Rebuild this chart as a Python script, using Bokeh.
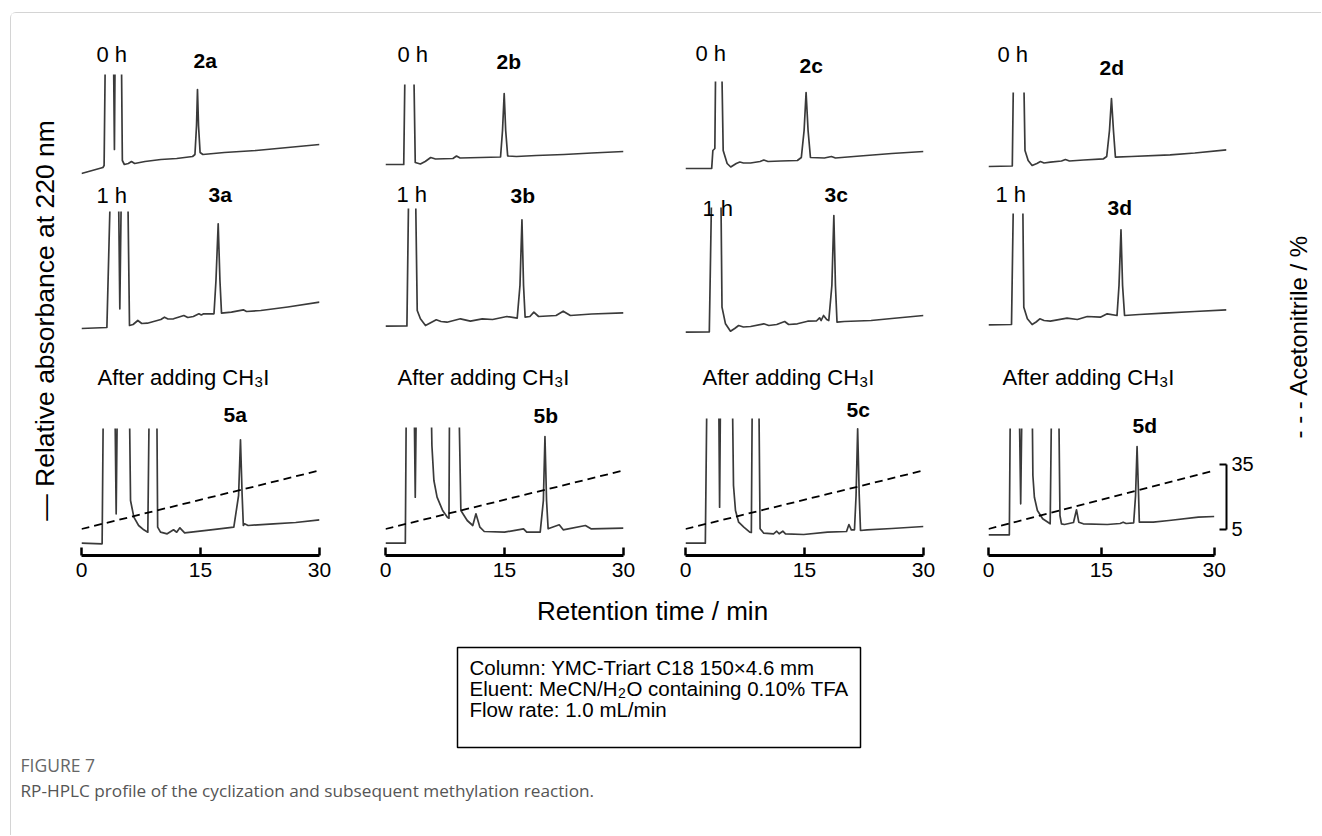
import numpy as np
from bokeh.plotting import figure
from bokeh.models import Range1d, LinearAxis, FixedTicker, Label, BoxAnnotation
from bokeh.layouts import column, row
from bokeh.embed import file_html
from bokeh.resources import INLINE

# ---------------- data ----------------
TIME_TICKS = [0, 15, 30]
ACN_TICKS = [5, 35]
ACN_TIME = [0, 30]          # min
ACN_PCT = [5, 32]           # % acetonitrile

# relative absorbance (arbitrary units), off-scale peaks given as 200
T_2A = [0, 2.7, 2.85, 3.1, 3.95, 4.15, 4.3, 4.95, 5.15, 5.4, 5.9, 6.3, 6.7, 8.0, 10.0, 12.0, 14.0, 14.3, 14.5, 14.62, 14.75, 14.95, 15.3, 18.0, 22.0, 26.0, 30.0]
A_2A = [7, 13, 15, 200, 200, 31, 200, 200, 20, 16, 17, 19, 17, 19, 21, 22, 24, 26, 55, 91, 55, 28, 26, 28, 30, 33, 36]
T_2B = [0, 2.3, 2.6, 3.4, 3.75, 4.4, 5.0, 5.7, 6.3, 8.5, 8.95, 9.4, 12.0, 14.5, 14.75, 14.96, 15.15, 15.4, 16.5, 19.0, 22.5, 26.0, 30.0]
A_2B = [16, 16, 200, 200, 18, 16.5, 19, 23, 21.5, 22, 24.5, 22.5, 23, 23.5, 50, 87, 50, 24.5, 24, 25, 26, 27.5, 29]
T_2C = [0, 3.3, 3.45, 3.7, 3.9, 4.4, 4.75, 5.25, 5.7, 6.4, 6.85, 7.3, 8.2, 9.4, 9.87, 10.4, 12.0, 14.1, 14.6, 14.95, 15.2, 15.45, 15.75, 17.5, 18.4, 18.9, 22.0, 26.0, 30.0]
A_2C = [12, 12, 30, 32, 200, 200, 30, 17, 13.5, 17, 18.5, 17.5, 17.5, 19, 20.5, 19, 19.5, 20, 23, 50, 88, 50, 23, 22.5, 24, 22.5, 24.5, 27, 29]
T_2D = [0, 3.0, 3.3, 4.25, 4.6, 5.0, 5.5, 6.1, 6.55, 7.0, 7.8, 9.2, 9.7, 10.2, 12.0, 14.5, 14.9, 15.25, 15.5, 15.75, 16.0, 18.0, 22.9, 26.0, 30.0]
A_2D = [14, 14.5, 200, 200, 30, 20, 15, 17, 19, 17.5, 18.3, 19.5, 21, 19.5, 20.5, 21.7, 24, 50, 82, 50, 23.3, 24, 25.7, 27.5, 30.7]

T_3A = [0, 3.2, 3.8, 4.6, 4.83, 5.1, 5.76, 6.05, 6.5, 7.1, 7.6, 8.3, 10.0, 10.46, 10.9, 11.6, 12.9, 13.4, 14.1, 14.8, 15.1, 15.4, 16.7, 16.95, 17.23, 17.45, 17.65, 18.9, 20.4, 20.8, 22.6, 26.0, 30.0]
A_3A = [12, 13, 200, 200, 31.7, 200, 200, 15, 16, 20, 17, 17.3, 21, 23.3, 21.5, 21.7, 25, 23, 24, 26.7, 25.5, 26.7, 26.7, 60, 116.7, 60, 27.3, 28.3, 30.7, 29, 30, 33.5, 38.3]
T_3B = [0, 2.7, 3.0, 3.7, 4.0, 4.4, 5.04, 6.4, 7.0, 7.75, 9.45, 10.7, 12.2, 13.5, 15.3, 16.6, 16.95, 17.2, 17.4, 17.6, 18.2, 18.7, 19.3, 21.5, 22.4, 23.3, 26.0, 30.0]
A_3B = [14.3, 14.5, 200, 200, 30, 21.7, 15, 20.7, 19, 18.3, 21.7, 19.3, 21.7, 21, 24, 22.3, 55, 120.7, 55, 23.3, 24, 28.3, 24, 25, 29.3, 25, 26.5, 27.7]
T_3C = [0, 3.0, 3.4, 4.4, 4.6, 5.04, 5.67, 6.2, 6.7, 7.3, 8.2, 9.87, 10.5, 11.5, 12.5, 13.0, 14.1, 15.4, 16.5, 16.9, 17.1, 17.4, 17.8, 18.06, 18.45, 18.7, 18.9, 19.1, 20.0, 23.4, 26.0, 30.0]
A_3C = [8.3, 8.5, 200, 200, 33.3, 16.7, 9.3, 12, 15, 13.5, 14, 16.7, 15, 16, 19, 16, 16.7, 19.3, 19.5, 22.7, 20, 25, 21, 20, 55, 125, 55, 18.3, 19, 20, 22, 25]
T_3D = [0, 2.9, 3.25, 4.25, 4.45, 4.9, 5.5, 6.0, 6.47, 7.0, 7.8, 9.9, 11.2, 12.45, 14.1, 14.96, 16.2, 16.45, 16.7, 16.9, 17.15, 19.0, 22.1, 26.0, 30.0]
A_3D = [15.7, 16, 200, 200, 33.3, 21.7, 16, 18.5, 21.7, 20, 19.3, 22.3, 21, 24, 23.3, 26.7, 25, 55, 110.7, 55, 25, 26, 27.3, 29, 30.7]

T_5A = [0, 2.6, 2.8, 4.15, 4.37, 4.58, 5.97, 6.18, 6.6, 7.2, 7.85, 8.36, 8.6, 9.45, 9.6, 9.96, 10.8, 11.6, 12.0, 12.4, 13.0, 16.3, 19.2, 19.8, 20.04, 20.25, 20.4, 20.55, 21.0, 24.2, 27.0, 30.0]
A_5A = [12.3, 11.7, 200, 200, 41.7, 200, 200, 55, 38.3, 30, 25.7, 23.3, 200, 200, 28.3, 23.3, 21.7, 25.7, 23.3, 27.7, 22.7, 25.7, 28.3, 60, 115.7, 60, 30, 31.7, 30, 31.7, 33, 35.7]
T_5B = [0, 2.5, 2.66, 3.55, 3.75, 3.95, 5.65, 5.85, 6.1, 6.5, 7.2, 7.8, 8.0, 8.1, 9.15, 9.5, 10.3, 11.0, 11.4, 11.9, 12.45, 15.0, 17.4, 17.8, 19.5, 19.9, 20.1, 20.3, 20.5, 21.9, 22.4, 25.2, 25.9, 30.0]
A_5B = [12.3, 12.3, 200, 200, 58.3, 200, 200, 110, 75, 58.3, 45, 38.3, 37.3, 200, 200, 45, 35, 30, 41.7, 28.3, 24, 23.3, 26.7, 23.3, 23.3, 55, 119, 55, 26.7, 30.7, 25.7, 30, 26.7, 27.3]
T_5C = [0, 2.5, 2.75, 4.15, 4.3, 4.45, 5.85, 6.05, 6.3, 6.7, 7.35, 8.1, 8.3, 8.45, 9.2, 9.4, 9.87, 11.1, 11.5, 11.8, 12.27, 12.6, 14.9, 17.9, 20.3, 20.6, 20.9, 21.3, 21.5, 21.7, 21.9, 22.06, 22.9, 26.0, 30.0]
A_5C = [12.3, 12.3, 200, 200, 48.3, 200, 200, 70, 45, 33.3, 28.3, 23.3, 23, 200, 200, 26.7, 22.3, 21.7, 24.3, 21.7, 24.3, 21.7, 21, 23.3, 24, 31, 25.7, 25.7, 60, 126.7, 60, 25, 25.7, 27, 29]
T_5D = [0, 2.77, 2.95, 4.0, 4.28, 4.53, 5.75, 5.9, 6.1, 6.5, 7.2, 8.2, 8.45, 9.27, 9.5, 9.7, 10.1, 11.3, 11.7, 12.0, 12.6, 15.8, 17.5, 17.9, 18.3, 19.3, 19.55, 19.75, 19.95, 20.05, 21.9, 24.0, 27.9, 30.0]
A_5D = [20.7, 20.7, 200, 200, 51.7, 200, 200, 80, 58.3, 45, 36.7, 31.7, 200, 200, 40, 31.7, 31, 33, 45.7, 33.3, 31.7, 31, 32, 33.3, 32, 32.7, 60, 109, 60, 33.3, 33.3, 35, 38.3, 39]

SERIES = [
    [(T_2A, A_2A), (T_2B, A_2B), (T_2C, A_2C), (T_2D, A_2D)],
    [(T_3A, A_3A), (T_3B, A_3B), (T_3C, A_3C), (T_3D, A_3D)],
    [(T_5A, A_5A), (T_5B, A_5B), (T_5C, A_5C), (T_5D, A_5D)],
]
ROW_TIME = ["0 h", "1 h", "After adding CH"]
COMPOUNDS = [["2a", "2b", "2c", "2d"], ["3a", "3b", "3c", "3d"], ["5a", "5b", "5c", "5d"]]

# ---------------- layout (page pixels) ----------------
OX, OY = 11, 13
PAGE_R, PAGE_B = 1321, 835
FIG_LEFT = [60, 355, 655, 958]
FIG_W = [295, 300, 303, 318]
FRAME_LEFT = [81, 385, 685, 988]
FRAME_W = 238
ROW_TOP = [13, 180, 340]
ROW_H = [167, 160, 253]
TOP_END = ROW_TOP[2] + ROW_H[2]
TRACE_TOP = [[74, 84, 81, 92], [211, 208, 207, 213], [428, 427, 418, 428]]
FRAME_BOTTOM = [180, 340, 555]
TIME_LBL = [[(96, 62), (397, 62), (695, 61), (997, 62)],
            [(96, 203), (396, 202), (702, 216), (995, 202)],
            [(97, 385), (397, 385), (702, 385), (1002, 385)]]
CMPD_LBL = [[(193, 68), (496, 69), (799, 73), (1099, 75)],
            [(208, 202), (510, 203), (824, 202), (1107, 215)],
            [(223, 422), (533, 423), (846, 417), (1132, 433)]]

FONT = "Liberation Sans"
TRACE_COLOR = "#3a3a3a"
ARIAL = {'A': 667, 'f': 278, 't': 278, 'e': 556, 'r': 333, ' ': 278, 'a': 556, 'd': 556,
         'i': 222, 'n': 556, 'g': 556, 'C': 722, 'H': 722, 'E': 667, 'l': 222, 'u': 556,
         ':': 278, 'M': 833, 'N': 722, '/': 278, '2': 556, '3': 556}


def tw(s, size):
    return sum(ARIAL[ch] for ch in s) * size / 1000.0


def txt(p, text, xp, yp, fl, fb, size, bold=False, align="left", base="alphabetic",
        color="black", font=FONT, angle=0):
    if base == "alphabetic":
        yp = yp - 0.38 * size   # compensate the renderer's baseline placement
    p.add_layout(Label(x=xp - fl, y=fb - yp, x_units="screen", y_units="screen", text=text,
                       text_font=font, text_font_size=f"{size}px",
                       text_font_style="bold" if bold else "normal",
                       text_align=align, text_baseline=base, text_color=color,
                       angle=angle, angle_units="deg"))


def clip_trace(t, a, top):
    """Cut the trace where it leaves the top of the displayed window (gaps as NaN)."""
    xs, ys = [], []
    for i in range(len(t)):
        x1, y1 = float(t[i]), float(a[i])
        if i > 0:
            x0, y0 = float(t[i - 1]), float(a[i - 1])
            if (y0 <= top) != (y1 <= top):
                xi = x0 + (top - y0) * (x1 - x0) / (y1 - y0)
                xs.append(xi)
                ys.append(top)
                if y1 > top:
                    xs.append(np.nan)
                    ys.append(np.nan)
        if y1 <= top:
            xs.append(x1)
            ys.append(y1)
    return xs, ys


def blank(w, h):
    p = figure(width=w, height=h, x_range=Range1d(0, 1), y_range=Range1d(0, 1),
               x_axis_type=None, y_axis_type=None, toolbar_location=None,
               output_backend="svg", min_border=0, outline_line_color=None)
    return p


cols = []
for c in range(4):
    figs = []
    for r in range(3):
        fw = FRAME_W + (13 if (c == 3 and r == 2) else 0)
        fl = FRAME_LEFT[c]
        ft = ROW_TOP[r]
        fb = FRAME_BOTTOM[r]
        bl = fl - FIG_LEFT[c]
        br = FIG_W[c] - bl - fw
        bb = ROW_TOP[r] + ROW_H[r] - fb
        clip_top = fb - TRACE_TOP[r][c]      # the display is cut at this height
        p = figure(width=FIG_W[c], height=ROW_H[r],
                   x_range=Range1d(0, 30.0 * fw / FRAME_W), y_range=Range1d(0, fb - ft),
                   x_axis_type=None, y_axis_type=None, toolbar_location=None,
                   output_backend="svg", outline_line_color=None,
                   min_border_left=bl, min_border_right=br,
                   min_border_top=0, min_border_bottom=bb)
        t, a = SERIES[r][c]
        xs, ys = clip_trace(t, a, clip_top)
        p.line(xs, ys, line_color=TRACE_COLOR, line_width=1.7, line_join="round")
        if r == 2:
            lo = 5 - (fb - 528.5) * 30 / 65.0
            hi = 5 + (528.5 - ft) * 30 / 65.0
            p.extra_y_ranges = {"acn": Range1d(lo, hi)}
            p.line(ACN_TIME, ACN_PCT, y_range_name="acn", line_color="black",
                   line_width=1.8, line_dash="8 5")
            ax = LinearAxis(ticker=FixedTicker(ticks=TIME_TICKS), bounds=(0, 30))
            ax.axis_line_width = 3
            ax.axis_line_color = "black"
            ax.major_tick_line_width = 2.5
            ax.major_tick_line_color = "black"
            ax.major_tick_in = 8
            ax.major_tick_out = 0
            ax.minor_tick_line_color = None
            ax.major_label_text_font = FONT
            ax.major_label_text_font_size = "21px"
            ax.major_label_text_color = "black"
            ax.major_label_standoff = 7
            p.add_layout(ax, "below")
            if c == 3:
                ay = LinearAxis(y_range_name="acn", ticker=FixedTicker(ticks=ACN_TICKS),
                                bounds=(5, 35))
                ay.axis_line_width = 2
                ay.axis_line_color = "black"
                ay.major_tick_line_width = 2
                ay.major_tick_line_color = "black"
                ay.major_tick_in = 7
                ay.major_tick_out = 0
                ay.minor_tick_line_color = None
                ay.major_label_text_font = FONT
                ay.major_label_text_font_size = "20px"
                ay.major_label_text_color = "black"
                ay.major_label_standoff = 5
                p.add_layout(ay, "right")
        # labels
        tx, ty = TIME_LBL[r][c]
        if r < 2:
            txt(p, ROW_TIME[r], tx, ty, fl, fb, 22)
        else:
            w1 = tw(ROW_TIME[r], 22)
            txt(p, ROW_TIME[r], tx, ty, fl, fb, 22)
            txt(p, "3", tx + w1 + 0.5, ty + 5 - 0.38 * (22 - 15), fl, fb, 15)
            txt(p, "I", tx + w1 + tw("3", 15) + 1, ty, fl, fb, 22)
        cx, cy = CMPD_LBL[r][c]
        txt(p, COMPOUNDS[r][c], cx, cy, fl, fb, 21, bold=True)
        figs.append(p)
    cols.append(column(*figs))

# side strips
left = blank(FIG_LEFT[0] - OX, TOP_END - OY)
txt(left, "\u2014 Relative absorbance at 220 nm", 44, 320, OX, TOP_END, 26.5,
    align="center", base="middle", angle=90)
RS_L = 1276
right = blank(PAGE_R - RS_L, TOP_END - OY)
txt(right, "- - - Acetonitrile / %", 1298, 336, RS_L, TOP_END, 24,
    align="center", base="middle", angle=90)

# bottom part
bottom = blank(PAGE_R - OX, PAGE_B - TOP_END)
BL, BB = OX, PAGE_B
txt(bottom, "Retention time / min", 652, 620, BL, BB, 26, align="center")
bottom.add_layout(BoxAnnotation(left=457 - BL, right=860 - BL, top=BB - 647, bottom=BB - 747,
                                left_units="screen", right_units="screen",
                                top_units="screen", bottom_units="screen",
                                fill_color=None, line_color="black", line_alpha=1.0,
                                line_width=1.5))
BOX_FS = 20.5
txt(bottom, "Column: YMC-Triart C18 150\u00d74.6 mm", 469, 675, BL, BB, BOX_FS)
e1 = "Eluent: MeCN/H"
w1 = tw(e1, BOX_FS)
txt(bottom, e1, 469, 696, BL, BB, BOX_FS)
txt(bottom, "2", 469 + w1 + 0.5, 700 - 0.38 * (BOX_FS - 14), BL, BB, 14)
txt(bottom, "O containing 0.10% TFA", 469 + w1 + tw("2", 14) + 1, 696, BL, BB, BOX_FS)
txt(bottom, "Flow rate: 1.0 mL/min", 469, 717, BL, BB, BOX_FS)
txt(bottom, "FIGURE 7", 20, 771, BL, BB, 17.5, color="#666666", font="Open Sans")
txt(bottom, "RP-HPLC profile of the cyclization and subsequent methylation reaction.",
    20, 797, BL, BB, 17.2, color="#555555", font="Open Sans")

root = column(row(left, *cols, right), bottom, margin=(12, 0, 0, 10),
              styles={"border-top": "1px solid #d4d4d4", "border-left": "1px solid #d4d4d4",
                      "border-top-left-radius": "6px"})

open("out.html", "w").write(file_html(root, INLINE))
